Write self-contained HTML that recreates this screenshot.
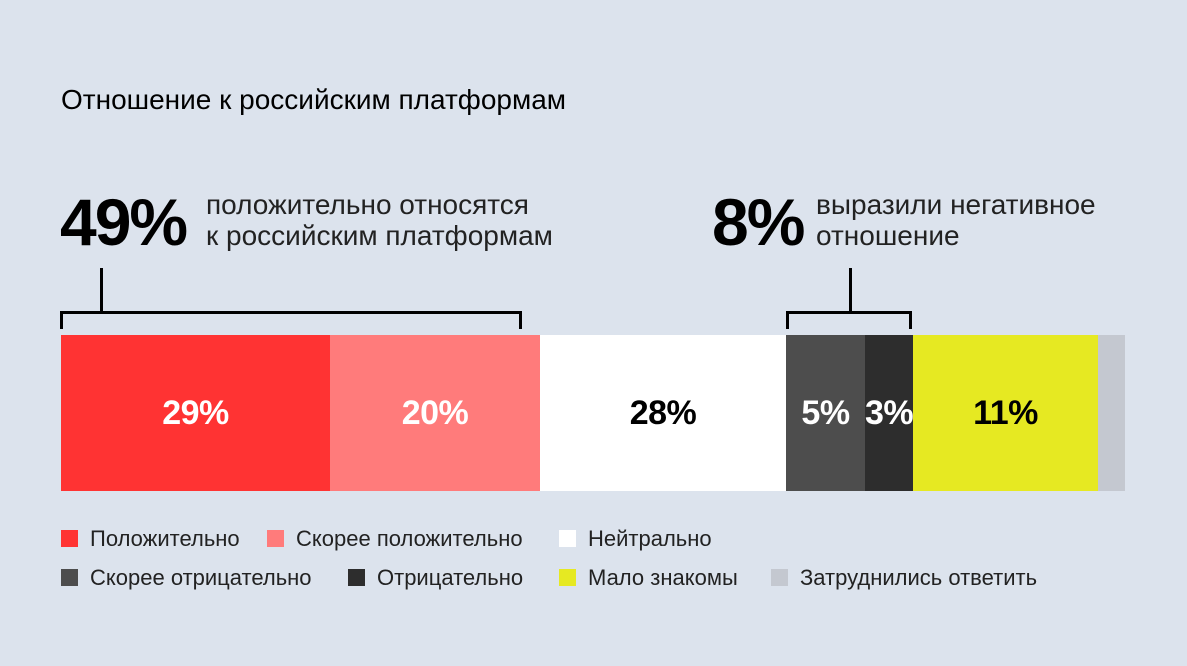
<!DOCTYPE html>
<html><head><meta charset="utf-8"><style>
body{margin:0;width:1187px;height:666px;background:#dce3ed;font-family:"Liberation Sans",sans-serif;position:relative;overflow:hidden;color:#000}
.a{position:absolute;white-space:nowrap}
.seg{position:absolute;top:335px;height:156px;display:flex;align-items:center;justify-content:center;font-weight:bold;font-size:34px;letter-spacing:-0.5px}
.sq{position:absolute;width:17px;height:17px}
.lg{position:absolute;font-size:22px;white-space:nowrap;color:#222}
.ln{position:absolute;background:#000}
</style></head><body>
<div class="a" style="left:61px;top:84px;font-size:28px">Отношение к российским платформам</div>
<div class="a" style="left:60px;top:184px;font-size:66px;font-weight:bold;letter-spacing:-2px">49%</div>
<div class="a" style="left:206px;top:189px;font-size:28px;line-height:31px;color:#222">положительно относятся<br>к российским платформам</div>
<div class="a" style="left:712px;top:184px;font-size:66px;font-weight:bold;letter-spacing:-2px">8%</div>
<div class="a" style="left:816px;top:189px;font-size:28px;line-height:31px;color:#222">выразили негативное<br>отношение</div>
<div class="ln" style="left:100px;top:268px;width:3px;height:45px"></div>
<div class="ln" style="left:60px;top:311px;width:462px;height:3px"></div>
<div class="ln" style="left:60px;top:311px;width:3px;height:18px"></div>
<div class="ln" style="left:519px;top:311px;width:3px;height:18px"></div>
<div class="ln" style="left:849px;top:268px;width:3px;height:45px"></div>
<div class="ln" style="left:786px;top:311px;width:126px;height:3px"></div>
<div class="ln" style="left:786px;top:311px;width:3px;height:18px"></div>
<div class="ln" style="left:909px;top:311px;width:3px;height:18px"></div>
<div class="seg" style="left:61px;width:269px;background:#ff3333;color:#fff">29%</div>
<div class="seg" style="left:330px;width:210px;background:#ff7b7b;color:#fff">20%</div>
<div class="seg" style="left:540px;width:246px;background:#fff">28%</div>
<div class="seg" style="left:786px;width:79px;background:#4d4d4d;color:#fff">5%</div>
<div class="seg" style="left:865px;width:48px;background:#2d2d2d;color:#fff">3%</div>
<div class="seg" style="left:913px;width:185px;background:#e6e922">11%</div>
<div class="seg" style="left:1098px;width:27px;background:#c4c8d0"></div>
<div class="sq" style="left:61px;top:530px;background:#ff3333"></div><div class="lg" style="left:90px;top:526px">Положительно</div>
<div class="sq" style="left:267px;top:530px;background:#ff7b7b"></div><div class="lg" style="left:296px;top:526px">Скорее положительно</div>
<div class="sq" style="left:559px;top:530px;background:#fff"></div><div class="lg" style="left:588px;top:526px">Нейтрально</div>
<div class="sq" style="left:61px;top:569px;background:#4d4d4d"></div><div class="lg" style="left:90px;top:565px">Скорее отрицательно</div>
<div class="sq" style="left:348px;top:569px;background:#2d2d2d"></div><div class="lg" style="left:377px;top:565px">Отрицательно</div>
<div class="sq" style="left:559px;top:569px;background:#e6e922"></div><div class="lg" style="left:588px;top:565px">Мало знакомы</div>
<div class="sq" style="left:771px;top:569px;background:#c4c8d0"></div><div class="lg" style="left:800px;top:565px">Затруднились ответить</div>
</body></html>
